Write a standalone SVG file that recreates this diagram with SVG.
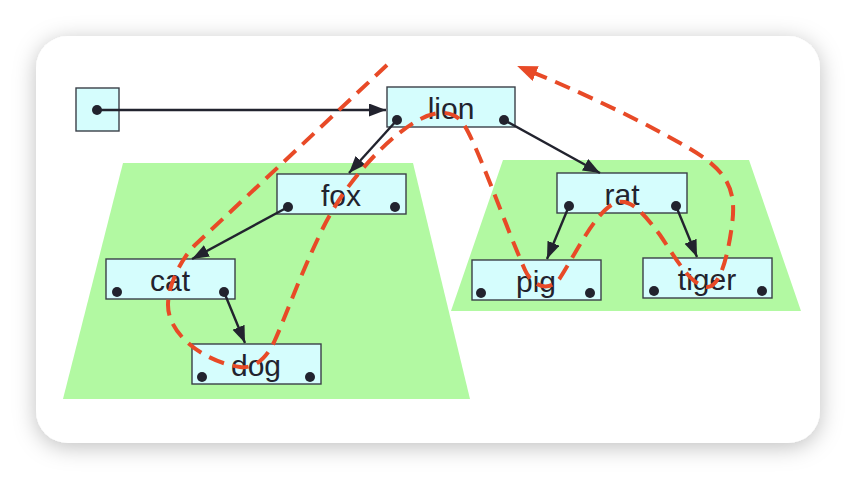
<svg xmlns="http://www.w3.org/2000/svg" width="856" height="480" viewBox="0 0 856 480">
<style>
.node rect.box{fill:#d5fdfd;stroke:#3a3f48;stroke-width:1.4}
.node circle{fill:#22232e}
.node text{font-family:"Liberation Sans",Arial,sans-serif;font-size:30px;fill:#22232e;text-anchor:middle}
.edge{stroke:#22232e;stroke-width:2.4;fill:none;marker-end:url(#ah)}
.trav{stroke:#e84a27;stroke-width:4;fill:none;stroke-dasharray:16 9;marker-end:url(#oh)}
.zone{fill:#b2f9a2}
</style>
<defs>
<filter id="sh" x="-10%" y="-15%" width="120%" height="130%">
<feDropShadow dx="0" dy="4" stdDeviation="11" flood-color="#000" flood-opacity="0.25"/>
</filter>
<marker id="ah" markerUnits="userSpaceOnUse" markerWidth="20" markerHeight="16" refX="17" refY="6.5" orient="auto">
<path d="M0,0 L17,6.5 L0,13 z" fill="#22232e"/>
</marker>
<marker id="oh" markerUnits="userSpaceOnUse" markerWidth="22" markerHeight="18" refX="4" refY="8" orient="auto">
<path d="M0,0 L20,8 L0,16 z" fill="#e84a27"/>
</marker>
</defs>
<rect width="856" height="480" fill="#ffffff"/>
<rect x="36" y="36" width="784" height="407" rx="32" fill="#ffffff" filter="url(#sh)"/>
<polygon class="zone" points="123,163 413,163 470,399 63,399"/>
<polygon class="zone" points="503,160 749,160 801,311 451,311"/>
<g id="root" class="node">
<rect class="box" x="76" y="88" width="43" height="43"/>
<circle cx="97" cy="110" r="5"/>
</g>
<g id="lion" class="node">
<rect class="box" x="387" y="87" width="128" height="40"/>
<text x="451" y="119">lion</text>
<circle cx="397" cy="120" r="5"/><circle cx="504" cy="120" r="5"/>
</g>
<g id="fox" class="node">
<rect class="box" x="277" y="174" width="129" height="40"/>
<text x="341" y="206">fox</text>
<circle cx="288" cy="207" r="5"/><circle cx="395" cy="207" r="5"/>
</g>
<g id="cat" class="node">
<rect class="box" x="106" y="259" width="129" height="40"/>
<text x="170" y="291">cat</text>
<circle cx="117" cy="292" r="5"/><circle cx="224" cy="292" r="5"/>
</g>
<g id="dog" class="node">
<rect class="box" x="192" y="344" width="129" height="40"/>
<text x="256" y="376">dog</text>
<circle cx="202" cy="377" r="5"/><circle cx="310" cy="377" r="5"/>
</g>
<g id="rat" class="node">
<rect class="box" x="557" y="173" width="130" height="40"/>
<text x="622" y="205">rat</text>
<circle cx="569" cy="206" r="5"/><circle cx="676" cy="206" r="5"/>
</g>
<g id="pig" class="node">
<rect class="box" x="472" y="260" width="129" height="40"/>
<text x="536" y="292">pig</text>
<circle cx="481" cy="293" r="5"/><circle cx="590" cy="293" r="5"/>
</g>
<g id="tiger" class="node">
<rect class="box" x="643" y="258" width="129" height="40"/>
<text x="707" y="290">tiger</text>
<circle cx="654" cy="291" r="5"/><circle cx="762" cy="291" r="5"/>
</g>
<g id="connectors">
<line class="edge" x1="97" y1="110" x2="386" y2="110"/>
<line class="edge" x1="397" y1="120" x2="349" y2="173"/>
<line class="edge" x1="504" y1="120" x2="600" y2="173"/>
<line class="edge" x1="288" y1="207" x2="192" y2="259"/>
<line class="edge" x1="224" y1="292" x2="245" y2="343"/>
<line class="edge" x1="569" y1="206" x2="547" y2="259"/>
<line class="edge" x1="676" y1="206" x2="697" y2="257"/>
<path class="trav" d="M387,65 L195,245 C181,259 168,285 168,305 C168,335 205,362 240,367 C256,369 268,356 275,340 C285,318 300,275 323,228 C345,183 385,140 415,122 C430,113 450,107 462,122 C475,138 505,225 525,270 C533,288 550,292 560,278 C575,255 595,212 615,203 C628,198 640,208 660,235 C675,257 690,285 707,287 C720,288 728,255 732,225 C736,195 730,178 707,160 C680,140 600,100 532,72"/>
</g>
</svg>
